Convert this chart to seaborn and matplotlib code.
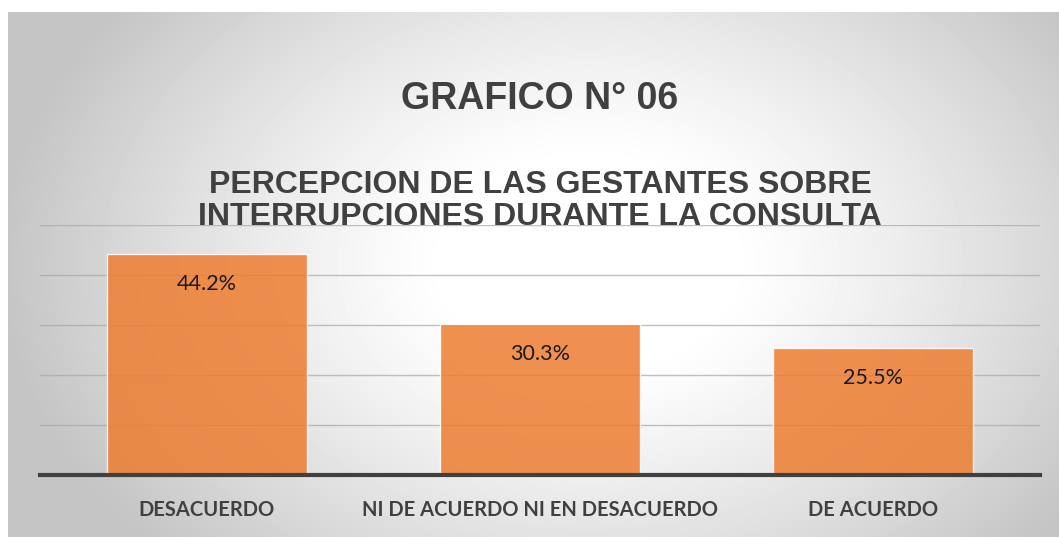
import numpy as np
import pandas as pd
import seaborn as sns
import matplotlib.pyplot as plt

categorias = ['DESACUERDO', 'NI DE ACUERDO NI EN DESACUERDO', 'DE ACUERDO']
porcentajes = [44.2, 30.3, 25.5]
etiquetas = ['44.2%', '30.3%', '25.5%']

df = pd.DataFrame({'categoria': categorias, 'porcentaje': porcentajes})

sns.set_style('white')
fig = plt.figure(figsize=(10.59, 5.37), dpi=100)

# fondo con degradado radial
bg = fig.add_axes([8 / 1059, 0, 1 - 8 / 1059, 525 / 537])
yy, xx = np.mgrid[0:525, 0:1051]
r = np.sqrt(((xx - 580) / 560.0) ** 2 + ((yy - 250) / 400.0) ** 2)
g = np.clip(1.0 - 0.3 * np.clip(r - 0.25, 0, None) ** 1.2, 0.77, 1.0)
bg.imshow(g, cmap='gray', vmin=0, vmax=1, aspect='auto', extent=[0, 1, 0, 1], origin='upper')
bg.set_axis_off()

ax = fig.add_axes([40 / 1059, 62 / 537, 1000 / 1059, 250 / 537])
ax.patch.set_alpha(0)
for y in [10, 20, 30, 40, 50]:
    ax.axhline(y, color='#a6a6a6', lw=1.0, alpha=0.7, zorder=0)

sns.barplot(data=df, x='categoria', y='porcentaje', color='#ED7D31', width=0.6,
            alpha=0.85, saturation=1, ax=ax, zorder=2)
ax.set_ylim(0, 50)
ax.set_xlim(-0.5, 2.5)
ax.set_yticks([])
ax.set_xlabel('')
ax.set_ylabel('')
sns.despine(ax=ax, left=True, top=True, right=True)
ax.spines['bottom'].set_color('#404040')
ax.spines['bottom'].set_linewidth(3)
ax.tick_params(axis='x', length=0, pad=18)
for lab in ax.get_xticklabels():
    lab.set_fontfamily('Lato')
    lab.set_fontweight('bold')
    lab.set_fontsize(14.5)
    lab.set_color('#404040')

for i, (v, t) in enumerate(zip(porcentajes, etiquetas)):
    ax.text(i, v - 6, t, ha='center', va='center', fontsize=15.5,
            family='Lato', color='#1a1a1a', zorder=3)

fig.text(540 / 1059, 1 - 99 / 537, 'GRAFICO N° 06', ha='center', va='center',
         fontsize=27, fontweight='bold', family='Liberation Sans', color='#404040')
fig.text(540 / 1059, 1 - 201 / 537,
         'PERCEPCION DE LAS GESTANTES SOBRE\nINTERRUPCIONES DURANTE LA CONSULTA',
         ha='center', va='center', fontsize=23, fontweight='bold',
         family='Liberation Sans', color='#404040', linespacing=1.1)

fig.savefig('out.png', dpi=100)
